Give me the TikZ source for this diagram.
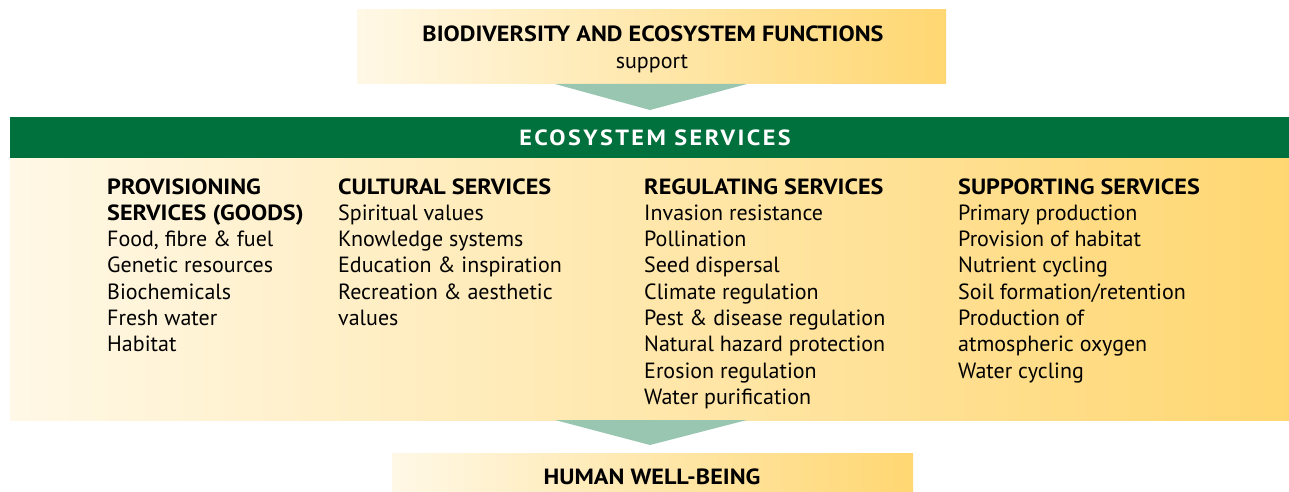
\documentclass[tikz,border=0pt]{standalone}
\usepackage{fontspec}
\setmainfont{PT Sans}[BoldFeatures={FakeStretch=1.1}]
\usetikzlibrary{calc}
\definecolor{creamlight}{HTML}{FFF8E6}
\definecolor{goldright}{HTML}{FFD772}
\definecolor{barGreen}{HTML}{00703C}
\definecolor{arrowGreen}{HTML}{99C6B1}
\tikzset{
  goldbox/.style={left color=creamlight, right color=goldright, draw=none},
  svcol/.style={anchor=base west, inner sep=0pt, font=\fontsize{22}{26.3}\selectfont},
  chevron/.style={fill=arrowGreen, draw=none}
}
\newcommand{\svlist}[1]{\begin{tabular}[t]{@{}l@{}}#1\end{tabular}}

\begin{document}
\begin{tikzpicture}[x=1pt, y=-1pt]
			%%%%% START %%%%%
			\useasboundingbox (0, 0) rectangle (1289, 492);
			
			% top box
			\shade[goldbox] (357, 10) rectangle (946, 84);
			\node[inner sep=0pt, font=\fontsize{22}{26}\selectfont\bfseries] (biofun) at (653, 34) {BIODIVERSITY AND ECOSYSTEM FUNCTIONS};
			\node[inner sep=0pt, font=\fontsize{22}{26}\selectfont] (support) at (652, 64) {support};
			\fill[chevron] (555, 84) -- (747, 84) -- (650, 110) -- cycle;
			
			% ecosystem services
			\fill[barGreen] (10, 117) rectangle (1289, 158);
			\node[inner sep=0pt, text=white, font=\fontsize{22}{26}\selectfont\bfseries\addfontfeature{LetterSpace=11}] (ecoserv) at (655, 138) {ECOSYSTEM SERVICES};
			\shade[goldbox] (10, 158) rectangle (1289, 420);
			
			\node[svcol] (provisioning) at (107, 194) {\svlist{\textbf{PROVISIONING}\\ \textbf{SERVICES (GOODS)}\\ Food, fibre \& fuel\\ Genetic resources\\ Biochemicals\\ Fresh water\\ Habitat}};
			\node[svcol] (cultural) at (338, 194) {\svlist{\textbf{CULTURAL SERVICES}\\ Spiritual values\\ Knowledge systems\\ Education \& inspiration\\ Recreation \& aesthetic\\ values}};
			\node[svcol] (regulating) at (644, 194) {\svlist{\textbf{REGULATING SERVICES}\\ Invasion resistance\\ Pollination\\ Seed dispersal\\ Climate regulation\\ Pest \& disease regulation\\ Natural hazard protection\\ Erosion regulation\\ Water purification}};
			\node[svcol] (supporting) at (958, 194) {\svlist{\textbf{SUPPORTING SERVICES}\\ Primary production\\ Provision of habitat\\ Nutrient cycling\\ Soil formation/retention\\ Production of\\ atmospheric oxygen\\ Water cycling}};
			
			\fill[chevron] (555, 420) -- (747, 420) -- (650, 445) -- cycle;
			
			% bottom box
			\shade[goldbox] (392, 453) rectangle (913, 492);
			\node[inner sep=0pt, font=\fontsize{22}{26}\selectfont\bfseries] (wellbeing) at (652, 477) {HUMAN WELL-BEING};
			%%%%% END %%%%%
\end{tikzpicture}
\end{document}
